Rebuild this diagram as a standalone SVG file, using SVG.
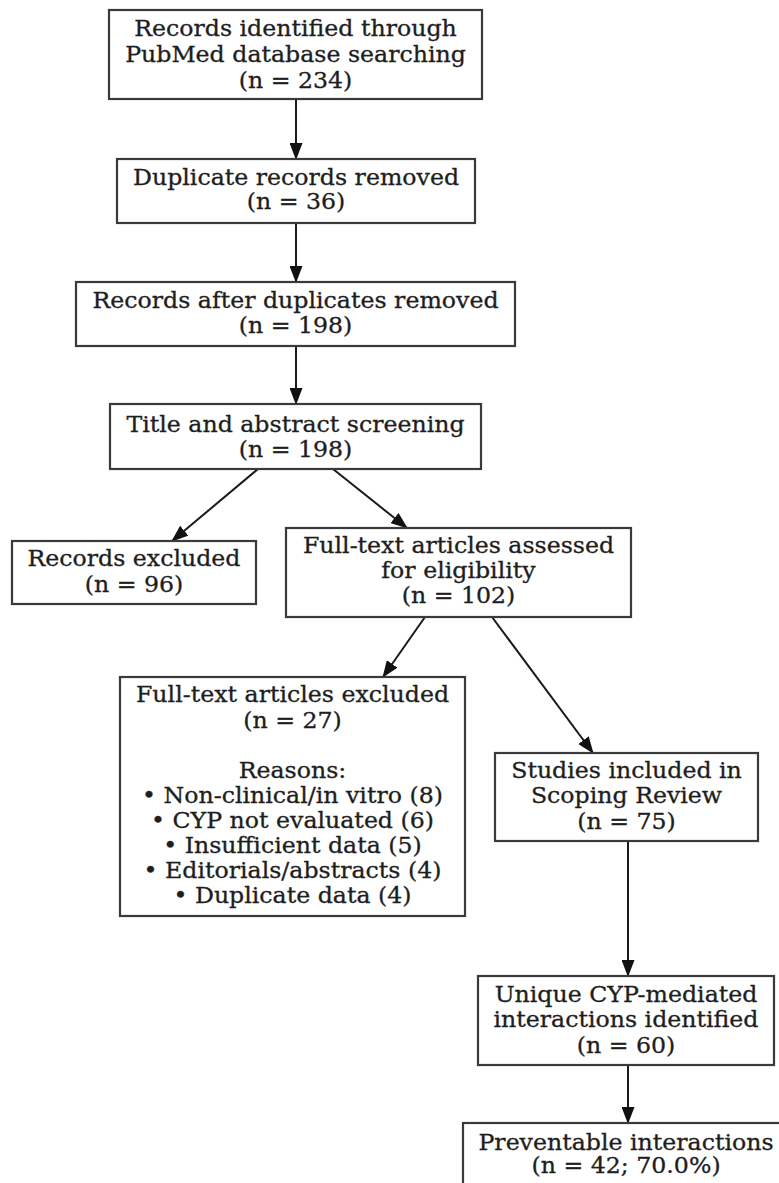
<svg xmlns="http://www.w3.org/2000/svg" width="779" height="1183" viewBox="0 0 779 1183">
<style>
.box{fill:#fff;stroke:#3a3a3a;stroke-width:2.2}
.t{font-family:"DejaVu Serif",serif;font-size:21.5px;fill:#1e1e1e;stroke:#1e1e1e;stroke-width:0.3;text-anchor:middle}
.e{stroke:#1a1a1a;stroke-width:2;fill:none;marker-end:url(#ah)}
</style>
<defs>
<marker id="ah" markerUnits="userSpaceOnUse" markerWidth="17" markerHeight="13" viewBox="0 0 17 13" refX="16" refY="6.5" orient="auto">
<path d="M0,0 L17,6.5 L0,13 z" fill="#111"/>
</marker>
</defs>
<rect width="779" height="1183" fill="#fff"/>
<g id="connectors">
<line class="e" x1="296" y1="99" x2="296" y2="159"/>
<line class="e" x1="296" y1="223" x2="296" y2="282"/>
<line class="e" x1="296" y1="346" x2="296" y2="404"/>
<line class="e" x1="258" y1="469" x2="172" y2="541"/>
<line class="e" x1="333" y1="469" x2="407" y2="528"/>
<line class="e" x1="425" y1="617" x2="383" y2="677"/>
<line class="e" x1="492" y1="617" x2="593" y2="753"/>
<line class="e" x1="628" y1="841" x2="628" y2="976"/>
<line class="e" x1="628" y1="1065" x2="628" y2="1123"/>
</g>
<g id="n1"><rect class="box" x="109" y="10" width="373" height="89"/>
<text class="t" transform="translate(295.5,36) scale(1.1,1)">Records identified through</text>
<text class="t" transform="translate(295.5,62) scale(1.1,1)">PubMed database searching</text>
<text class="t" transform="translate(295.5,88) scale(1.1,1)">(n = 234)</text></g>
<g id="n2"><rect class="box" x="117" y="159" width="358" height="64"/>
<text class="t" transform="translate(296,185) scale(1.1,1)">Duplicate records removed</text>
<text class="t" transform="translate(296,209) scale(1.1,1)">(n = 36)</text></g>
<g id="n3"><rect class="box" x="76" y="282" width="439" height="64"/>
<text class="t" transform="translate(295.5,308) scale(1.1,1)">Records after duplicates removed</text>
<text class="t" transform="translate(295.5,333) scale(1.1,1)">(n = 198)</text></g>
<g id="n4"><rect class="box" x="110" y="404" width="371" height="65"/>
<text class="t" transform="translate(295.5,432) scale(1.1,1)">Title and abstract screening</text>
<text class="t" transform="translate(295.5,457) scale(1.1,1)">(n = 198)</text></g>
<g id="n5"><rect class="box" x="12" y="541" width="244" height="63"/>
<text class="t" transform="translate(134,566) scale(1.1,1)">Records excluded</text>
<text class="t" transform="translate(134,592) scale(1.1,1)">(n = 96)</text></g>
<g id="n6"><rect class="box" x="286" y="528" width="345" height="89"/>
<text class="t" transform="translate(458.5,553) scale(1.1,1)">Full-text articles assessed</text>
<text class="t" transform="translate(458.5,578) scale(1.1,1)">for eligibility</text>
<text class="t" transform="translate(458.5,603) scale(1.1,1)">(n = 102)</text></g>
<g id="n7"><rect class="box" x="120" y="677" width="345" height="239"/>
<text class="t" transform="translate(292.5,702) scale(1.1,1)">Full-text articles excluded</text>
<text class="t" transform="translate(292.5,728) scale(1.1,1)">(n = 27)</text>
<text class="t" transform="translate(292.5,778) scale(1.1,1)">Reasons:</text>
<text class="t" transform="translate(292.5,803) scale(1.1,1)">• Non-clinical/in vitro (8)</text>
<text class="t" transform="translate(292.5,828) scale(1.1,1)">• CYP not evaluated (6)</text>
<text class="t" transform="translate(292.5,853) scale(1.1,1)">• Insufficient data (5)</text>
<text class="t" transform="translate(292.5,878) scale(1.1,1)">• Editorials/abstracts (4)</text>
<text class="t" transform="translate(292.5,903) scale(1.1,1)">• Duplicate data (4)</text></g>
<g id="n8"><rect class="box" x="495" y="753" width="263" height="88"/>
<text class="t" transform="translate(626.5,778) scale(1.1,1)">Studies included in</text>
<text class="t" transform="translate(626.5,803) scale(1.1,1)">Scoping Review</text>
<text class="t" transform="translate(626.5,829) scale(1.1,1)">(n = 75)</text></g>
<g id="n9"><rect class="box" x="478" y="976" width="296" height="89"/>
<text class="t" transform="translate(626,1002) scale(1.1,1)">Unique CYP-mediated</text>
<text class="t" transform="translate(626,1027) scale(1.1,1)">interactions identified</text>
<text class="t" transform="translate(626,1053) scale(1.1,1)">(n = 60)</text></g>
<g id="n10"><rect class="box" x="463" y="1123" width="330" height="80"/>
<text class="t" transform="translate(626,1150) scale(1.1,1)">Preventable interactions</text>
<text class="t" transform="translate(626,1173) scale(1.1,1)">(n = 42; 70.0%)</text></g>
</svg>
